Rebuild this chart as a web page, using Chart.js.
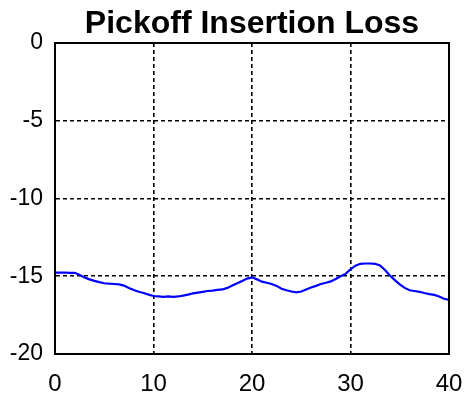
<!DOCTYPE html>
<html>
<head>
<meta charset="utf-8">
<script src="https://cdn.jsdelivr.net/npm/chart.js@4/dist/chart.umd.min.js"></script>
<style>
html,body{margin:0;padding:0;background:#fff;}
#wrap{width:469px;height:405px;}
</style>
</head>
<body>
<div id="wrap"><canvas id="c" width="469" height="405"></canvas></div>
<script>
const titleText = "Pickoff Insertion Loss";
const xValues = [0,0.5,1,1.5,2,2.3,2.7,3,3.5,4,4.5,5,5.5,6,6.5,7,7.5,8,8.5,9,9.5,10,10.5,11,11.5,12,12.5,13,13.5,14,14.5,15,15.5,16,16.5,17,17.5,18,18.5,19,19.5,20,20.5,21,21.5,22,22.5,23,23.5,24,24.5,25,25.5,26,26.5,27,27.5,28,28.5,29,29.5,30,30.5,31,31.5,32,32.5,33,33.5,34,34.5,35,35.5,36,36.5,37,37.5,38,38.5,39,39.5,40];
const lossValues = [-14.77,-14.77,-14.76,-14.78,-14.78,-14.85,-14.98,-15.08,-15.2,-15.3,-15.38,-15.45,-15.48,-15.5,-15.52,-15.6,-15.75,-15.88,-16.0,-16.08,-16.18,-16.27,-16.3,-16.33,-16.3,-16.32,-16.3,-16.25,-16.18,-16.1,-16.05,-16.0,-15.95,-15.92,-15.88,-15.85,-15.75,-15.6,-15.45,-15.3,-15.15,-15.07,-15.2,-15.35,-15.42,-15.5,-15.62,-15.8,-15.9,-15.98,-16.03,-15.98,-15.85,-15.72,-15.62,-15.5,-15.42,-15.33,-15.18,-15.0,-14.85,-14.55,-14.32,-14.2,-14.18,-14.18,-14.2,-14.3,-14.6,-14.95,-15.25,-15.52,-15.75,-15.9,-15.95,-16.0,-16.08,-16.15,-16.2,-16.3,-16.45,-16.52];
const xTicks = [0,10,20,30,40];
const yTicks = [0,-5,-10,-15,-20];

const points = xValues.map((x,i)=>({x:x,y:lossValues[i]}));
const FONT = "'Liberation Sans', Arial, Helvetica, sans-serif";

const boxPlugin = {
  id:'box',
  afterDraw(chart){
    const a = chart.chartArea, ctx = chart.ctx;
    ctx.save();
    ctx.strokeStyle = '#000';
    ctx.lineWidth = 2;
    ctx.setLineDash([]);
    ctx.strokeRect(a.left, a.top, a.right-a.left, a.bottom-a.top);
    ctx.fillStyle = '#000';
    ctx.font = 'bold 32px ' + FONT;
    ctx.textAlign = 'center';
    ctx.textBaseline = 'alphabetic';
    ctx.fillText(titleText, (a.left + a.right)/2, 33);
    ctx.restore();
  }
};

new Chart(document.getElementById('c'), {
  type:'line',
  data:{datasets:[{data:points, borderColor:'#0000ff', borderWidth:2.2, pointRadius:0, tension:0, fill:false}]},
  options:{
    responsive:false,
    animation:false,
    layout:{padding:{left:0,right:20,top:43,bottom:0}},
    plugins:{
      legend:{display:false},
      tooltip:{enabled:false},
      title:{display:false}
    },
    scales:{
      x:{type:'linear', min:0, max:40,
        afterBuildTicks(s){ s.ticks = xTicks.map(v=>({value:v})); },
        afterFit(s){ s.height = 51; },
        border:{display:true,color:'#000',width:2,dash:[4,3]},
        grid:{color:'#000', lineWidth:1.6, drawTicks:false, tickLength:0},
        ticks:{color:'#000', font:{family:FONT,size:24,lineHeight:2.5}, padding:0, maxRotation:0, callback:v=>String(v)}
      },
      y:{type:'linear', min:-20, max:0,
        afterBuildTicks(s){ s.ticks = yTicks.map(v=>({value:v})); },
        afterFit(s){ s.width = 55; },
        border:{display:true,color:'#000',width:2,dash:[4,3]},
        grid:{color:'#000', lineWidth:1.6, drawTicks:false, tickLength:0},
        ticks:{color:'#000', font:{family:FONT,size:23}, padding:12, callback:v=>String(v)}
      }
    }
  },
  plugins:[boxPlugin]
});
</script>
</body>
</html>
